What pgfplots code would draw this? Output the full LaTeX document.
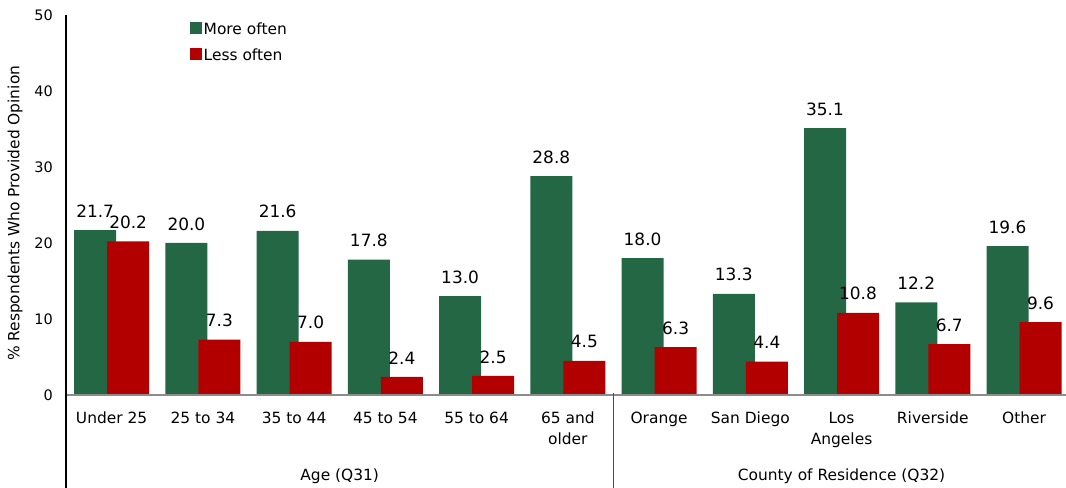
\documentclass[border=0pt]{standalone}
\usepackage{pgfplots}
\pgfplotsset{compat=1.18}
\usepackage{fontspec}
\setmainfont{DejaVu Sans}
\definecolor{cgreen}{HTML}{236745}
\definecolor{cred}{HTML}{B20000}
\definecolor{axgray}{HTML}{8C8C8C}
\begin{document}
\begin{tikzpicture}
\useasboundingbox (0,0) rectangle (1066bp,488bp);
\begin{axis}[
  at={(66bp,93bp)}, anchor=south west,
  scale only axis, width=1000bp, height=380bp,
  xmin=-0.5, xmax=10.46, ymin=0, ymax=50,
  ybar=-9bp, bar width=42bp,
  clip=false,
  axis line style={draw=none},
  major tick length=0pt,
  /pgf/number format/assume math mode=true,
  ytick={0,10,20,30,40,50},
  yticklabel style={font=\fontsize{14.5}{17}\selectfont, inner sep=0pt, anchor=east, xshift=-13bp},
  xtick={0,1,2,3,4,5,6,7,8,9,10},
  xticklabels={Under 25,25 to 34,35 to 44,45 to 54,55 to 64,65 and\\older,Orange,San Diego,Los\\Angeles,Riverside,Other},
  xticklabel style={font=\fontsize{15.5}{21}\selectfont, align=center, anchor=north, inner sep=0pt, yshift=-17bp},
  ylabel={\% Respondents Who Provided Opinion},
  ylabel style={font=\fontsize{15.5}{18}\selectfont, at={(axis description cs:-0.051,0.478)}, anchor=center},
  nodes near coords={\pgfmathprintnumber[fixed, fixed zerofill, precision=1]{\pgfplotspointmeta}},
  nodes near coords style={font=\fontsize{17}{20}\selectfont, anchor=south, inner sep=0pt, yshift=12.5bp, text=black},
  legend style={draw=none, fill=none, inner sep=0pt, font=\fontsize{15.5}{18}\selectfont,
    at={(axis description cs:0.124,0.985)}, anchor=north west, row sep=11bp,
    /tikz/every node/.style={inner sep=1.5bp}},
  legend cell align=left,
]
\addplot[fill=cgreen, draw=none,
  legend image code/.code={\fill[cgreen] (0bp,-6bp) rectangle (12bp,6bp);}]
  coordinates {(0,21.7) (1,20.0) (2,21.6) (3,17.8) (4,13.0) (5,28.8) (6,18.0) (7,13.3) (8,35.1) (9,12.2) (10,19.6)};
\addlegendentry{More often}
\addplot[fill=cred, draw=none,
  legend image code/.code={\fill[cred] (0bp,-6bp) rectangle (12bp,6bp);}]
  coordinates {(0,20.2) (1,7.3) (2,7.0) (3,2.4) (4,2.5) (5,4.5) (6,6.3) (7,4.4) (8,10.8) (9,6.7) (10,9.6)};
\addlegendentry{Less often}
\draw[axgray, line width=1.5bp] (rel axis cs:0,0) -- (rel axis cs:1,0);
\draw[black, line width=1.2bp] (rel axis cs:0,1) -- ([yshift=-100bp]rel axis cs:0,0);
\draw[black!70, line width=1.2bp] ([yshift=2bp]axis cs:5.5,0) -- ([yshift=-100bp]axis cs:5.5,0);
\node[anchor=base, font=\fontsize{15.5}{18}\selectfont, inner sep=0pt] at ([yshift=-85bp]axis cs:2.5,0) {Age (Q31)};
\node[anchor=base, font=\fontsize{15.5}{18}\selectfont, inner sep=0pt] at ([yshift=-85bp]axis cs:8.0,0) {County of Residence (Q32)};
\end{axis}
\end{tikzpicture}
\end{document}
